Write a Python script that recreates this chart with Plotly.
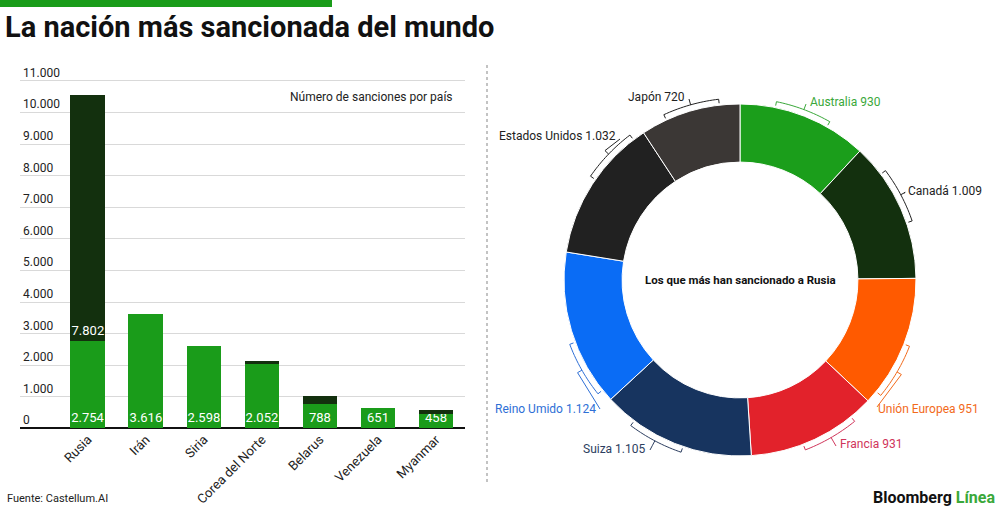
import numpy as np
import plotly.graph_objects as go

### DATA ###

# Left: number of sanctions per country (before / after 22 Feb 2022).
countries = ['Rusia', 'Irán', 'Siria', 'Corea del Norte', 'Belarus',
             'Venezuela', 'Myanmar']
sanctions_before = [2754, 3616, 2598, 2052, 788, 651, 458]
sanctions_after = [7802, 0, 0, 70, 250, 0, 115]
after_labels = ['7.802', '', '', '', '', '', '']

y_ticks = [0, 1000, 2000, 3000, 4000, 5000, 6000, 7000, 8000, 9000, 10000,
           11000]
y_tick_labels = ['0', '1.000', '2.000', '3.000', '4.000', '5.000', '6.000',
                 '7.000', '8.000', '9.000', '10.000', '11.000']

# Right: who has sanctioned Russia the most.
senders = ['Australia', 'Canadá', 'Unión Europea', 'Francia', 'Suiza',
           'Reino Umido', 'Estados Unidos', 'Japón']
sender_counts = [930, 1009, 951, 931, 1105, 1124, 1032, 720]

### STYLE ###

GREEN = '#1a9c1a'
DARK_GREEN = '#13300e'
FONT = 'Roboto'
W, H = 1000, 507

slice_colors = ['#1b9e1b', '#13300e', '#ff5a00', '#e2222b', '#17345f',
                '#0a6cf5', '#212121', '#3b3735']
label_colors = ['#3aa83a', '#222222', '#f26a1b', '#d0345a', '#2c3e60',
                '#2e6fd6', '#222222', '#222222']
# label anchor in pixels (x, y, side) and where its connector ends
label_pos = [(808, 102, 'left'), (906, 191, 'left'), (981, 409, 'right'),
             (838, 444, 'left'), (648, 449, 'right'), (598, 409, 'right'),
             (618, 136, 'right'), (687, 97, 'right')]
connector_end = [(806, 104), (904, 193), (877, 407), (836, 446), (650, 450),
                 (600, 409), (620, 139), (689, 99)]


def fmt(v):
    return f'{v:,}'.replace(',', '.')


def px(x, y):
    # pixel -> paper
    return x / W, 1 - y / H


fig = go.Figure()

fig.add_trace(go.Bar(
    x=countries, y=sanctions_before, marker_color=GREEN,
    marker_line_width=0, text=[fmt(v) for v in sanctions_before],
    textposition='inside', insidetextanchor='start', textangle=0,
    constraintext='none',
    textfont=dict(color='white', size=13, family=FONT),
    hoverinfo='skip', showlegend=False))
fig.add_trace(go.Bar(
    x=countries, y=sanctions_after, marker_color=DARK_GREEN,
    marker_line_width=0, text=after_labels,
    textposition='inside', insidetextanchor='start', textangle=0,
    constraintext='none',
    textfont=dict(color='white', size=13, family=FONT),
    hoverinfo='skip', showlegend=False))

# Donut
cx, cy, r_out = 740, 280, 176
fig.add_trace(go.Pie(
    values=sender_counts, labels=senders, hole=0.67, sort=False,
    direction='clockwise', rotation=0, textinfo='none',
    marker=dict(colors=slice_colors, line=dict(color='white', width=1)),
    domain=dict(x=[(cx - r_out) / W, (cx + r_out) / W],
                y=[1 - (cy + r_out) / H, 1 - (cy - r_out) / H]),
    showlegend=False, hoverinfo='skip'))


def ring_xy(r, a):
    return cx + r * np.sin(a), cy - r * np.cos(a)


# Brackets along each slice, pointing at the label
total = sum(sender_counts)
cum = np.cumsum([0] + sender_counts)
for i, v in enumerate(sender_counts):
    a0 = cum[i] / total * 2 * np.pi
    a1 = cum[i + 1] / total * 2 * np.pi
    ex, ey = connector_end[i]
    ang = np.arctan2(ex - cx, cy - ey) % (2 * np.pi)
    inset = np.radians(4)
    half = np.radians(9)
    mid = min(max(ang, a0 + inset + half), a1 - inset - half)
    angs = np.linspace(mid - half, mid + half, 20)
    rb = r_out + 6
    pts = [ring_xy(r_out + 2, angs[0])]
    pts += [ring_xy(rb, a) for a in angs]
    pts += [ring_xy(r_out + 2, angs[-1])]
    path = 'M ' + ' L '.join('{:.5f},{:.5f}'.format(*px(a, b)) for a, b in pts)
    k0 = ring_xy(rb, mid)
    k1 = ring_xy(rb + 5, mid)
    path += ' M {:.5f},{:.5f}'.format(*px(*k0))
    path += ' L {:.5f},{:.5f}'.format(*px(*k1))
    path += ' L {:.5f},{:.5f}'.format(*px(ex, ey))
    fig.add_shape(type='path', path=path, xref='paper', yref='paper',
                  line=dict(color=label_colors[i], width=1))
    lx, ly, side = label_pos[i]
    ax, ay = px(lx, ly)
    fig.add_annotation(x=ax, y=ay, xref='paper', yref='paper',
                       xanchor=side, yanchor='middle', showarrow=False,
                       text=f'{senders[i]} {fmt(v)}',
                       font=dict(size=12, color=label_colors[i],
                                 family=FONT))

fig.add_annotation(x=px(cx, cy)[0], y=px(cx, cy)[1], xref='paper',
                   yref='paper', showarrow=False, xanchor='center',
                   yanchor='middle',
                   text='<b>Los que más han sancionado a Rusia</b>',
                   font=dict(size=11.5, color='#111', family=FONT))

# Title, top bar, footers
fig.add_shape(type='rect', xref='paper', yref='paper', x0=0, x1=0.332,
              y0=1 - 7 / H, y1=1, fillcolor=GREEN, line_width=0)
fig.add_annotation(x=0.003, y=px(0, 27)[1], xref='paper', yref='paper',
                   xanchor='left', yanchor='middle', showarrow=False,
                   text='<b>La nación más sancionada del mundo</b>',
                   font=dict(size=29, color='#111', family=FONT, weight=900))
fig.add_annotation(x=0.455, y=px(0, 97)[1], xref='paper', yref='paper',
                   xanchor='right', yanchor='middle', showarrow=False,
                   text='Número de sanciones por país',
                   font=dict(size=12, color='#222', family=FONT))
fig.add_annotation(x=0.005, y=px(0, 498)[1], xref='paper', yref='paper',
                   xanchor='left', yanchor='middle', showarrow=False,
                   text='Fuente: Castellum.AI',
                   font=dict(size=11, color='#222', family=FONT))
fig.add_annotation(x=0.997, y=px(0, 497)[1], xref='paper', yref='paper',
                   xanchor='right', yanchor='middle', showarrow=False,
                   text='<b>Bloomberg <span style="color:#3aa83a">Línea</span></b>',
                   font=dict(size=16, color='#111', family=FONT, weight=900))
# dotted separator
fig.add_shape(type='line', xref='paper', yref='paper', x0=0.487, x1=0.487,
              y0=px(0, 482)[1], y1=px(0, 62)[1],
              line=dict(color='#b0b0b0', width=1.5, dash='dot'))

# y range padded so the top label (drawn above its line) stays visible
Y_TOP = 11900
y_scale = (428.5 - 81) / 11000
fig.update_layout(
    width=W, height=H, barmode='stack', bargap=0.4,
    margin=dict(l=0, r=0, t=0, b=0),
    paper_bgcolor='white', plot_bgcolor='white',
    font=dict(family=FONT, color='#222'),
    xaxis=dict(domain=[0.02, 0.465], range=[-1.17, 6.5], tickangle=-45,
               tickfont=dict(size=13, color='#222'), showgrid=False,
               showline=False, ticks='', automargin=False),
    yaxis=dict(domain=[1 - 428.5 / H, 1 - (428.5 - Y_TOP * y_scale) / H],
               range=[0, Y_TOP],
               tickvals=y_ticks, ticktext=y_tick_labels,
               ticklabelposition='inside top',
               tickfont=dict(size=12, color='#222'),
               gridcolor='#d9d9d9', gridwidth=1, zeroline=True,
               zerolinecolor='#111', zerolinewidth=2, automargin=False),
)

fig.write_html('out.html', config={'displayModeBar': False},
               post_script="document.body.style.margin='0';"
                           "document.body.style.overflow='hidden';")
